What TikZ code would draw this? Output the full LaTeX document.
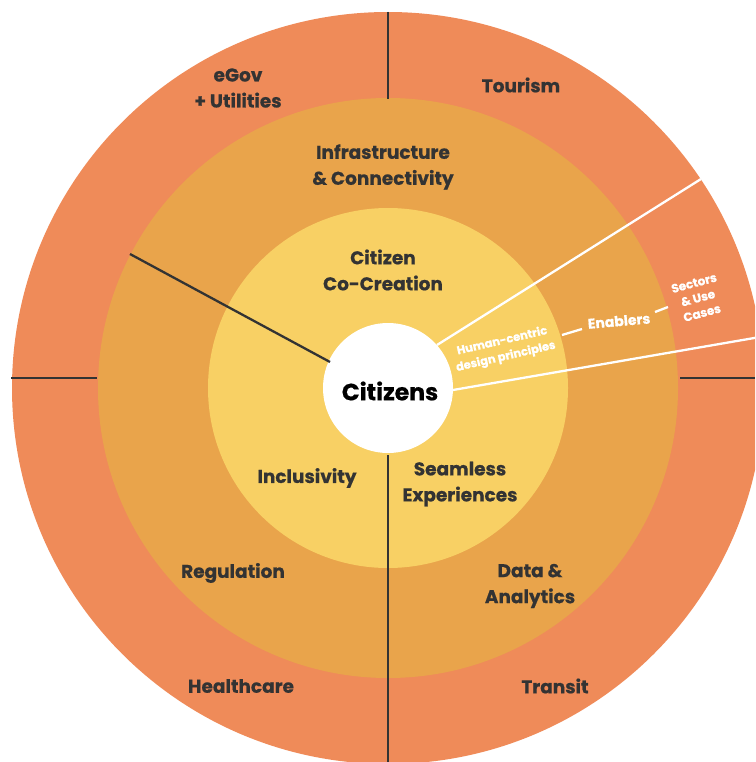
\documentclass[tikz,border=0pt]{standalone}
\usepackage{fontspec}
\setmainfont{Poppins}[BoldFeatures={FakeBold=0.6}]
\definecolor{outerc}{HTML}{EF8B59}
\definecolor{midc}{HTML}{E9A44B}
\definecolor{innerc}{HTML}{F8D064}
\definecolor{txt}{HTML}{333333}
\tikzset{
  lbl/.style={font=\bfseries\fontsize{18.5}{26}\selectfont, text=txt, align=center, inner sep=0pt},
  wlbl/.style={font=\bfseries\fontsize{11.5}{16}\selectfont, text=white, align=center, inner sep=0pt},
  darkline/.style={draw=txt, line width=2.3pt},
  whiteline/.style={draw=white, line width=2.3pt},
}
\begin{document}
\begin{tikzpicture}[x=1pt,y=-1pt]
\useasboundingbox (0,0) rectangle (755,762);
\clip (0,0) rectangle (755,762);
\coordinate (c) at (388,388);
\fill[outerc] (c) circle (376);
\fill[midc] (c) circle (290);
\fill[innerc] (c) circle (180);
\node[circle, fill=white, minimum size=130pt, inner sep=0pt] (cit) at (c) {};
% dark dividers
\coordinate (t1) at (388,12); \coordinate (t2) at (388,99);
\draw[darkline] (t1) -- (t2);
\coordinate (b1) at (388,455); \coordinate (b2) at (388,762);
\draw[darkline] (b1) -- (b2);
\coordinate (l1) at (11,378); \coordinate (l2) at (97,378);
\draw[darkline] (l1) -- (l2);
\coordinate (r1) at (680,378); \coordinate (r2) at (755,378);
\draw[darkline] (r1) -- (r2);
\coordinate (d1) at (130,254); \coordinate (d2) at (330,362);
\draw[darkline] (d1) -- (d2);
% white lines
\coordinate (w1) at (437,345); \coordinate (w2) at (701,179);
\draw[whiteline] (w1) -- (w2);
\coordinate (w3) at (453,390); \coordinate (w4) at (760,337);
\draw[whiteline] (w3) -- (w4);
\coordinate (e1) at (562,335); \coordinate (e2) at (582,329);
\draw[whiteline] (e1) -- (e2);
\coordinate (s1) at (655,312); \coordinate (s2) at (668,307);
\draw[whiteline] (s1) -- (s2);
% labels
\node[font=\bfseries\fontsize{23.5}{26}\selectfont, text=black] (citt) at (390,391) {Citizens};
\node[lbl] (egov) at (238,88) {eGov\\+ Utilities};
\node[lbl] (tour) at (521,85) {Tourism};
\node[lbl] (infra) at (383,167) {Infrastructure\\\& Connectivity};
\node[lbl] (cocr) at (383,270) {Citizen\\Co-Creation};
\node[lbl] (incl) at (307,478) {Inclusivity};
\node[lbl] (seam) at (460,484) {Seamless\\Experiences};
\node[lbl] (reg) at (233,573) {Regulation};
\node[lbl] (data) at (530,586) {Data \&\\Analytics};
\node[lbl] (health) at (241,686) {Healthcare};
\node[lbl] (trans) at (555,686) {Transit};
\node[wlbl, rotate=13] (hum) at (504,349) {Human-centric\\design principles};
\node[wlbl, font=\bfseries\fontsize{14}{16}\selectfont, rotate=5] (enab) at (619,321) {Enablers};
\node[wlbl, font=\bfseries\fontsize{12}{15.5}\selectfont, rotate=15] (sect) at (698,298) {Sectors\\\& Use\\Cases};
\end{tikzpicture}
\end{document}
